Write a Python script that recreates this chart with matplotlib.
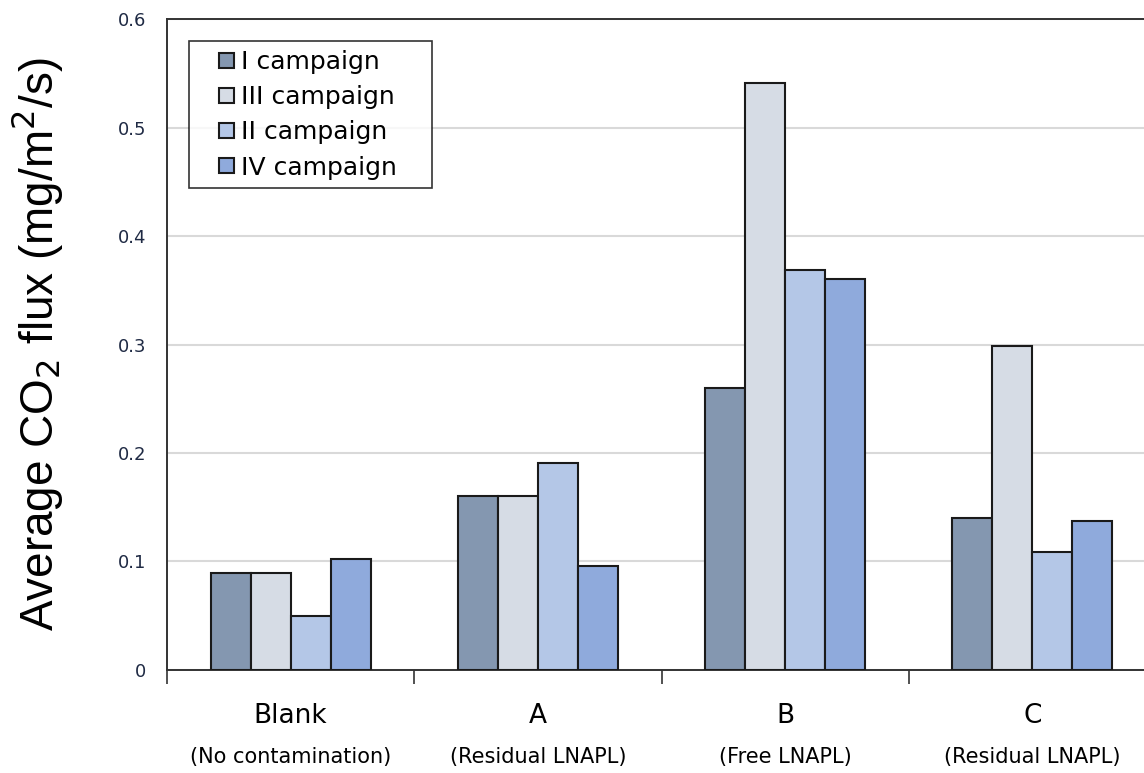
import numpy as np
import matplotlib.pyplot as plt
from matplotlib.patches import Rectangle
from matplotlib.legend_handler import HandlerPatch

plt.rcParams['font.family'] = ['DejaVu Sans']

# data
sites = ['Blank', 'A', 'B', 'C']
site_notes = ['(No contamination)', '(Residual LNAPL)', '(Free LNAPL)', '(Residual LNAPL)']
campaigns = ['I campaign', 'III campaign', 'II campaign', 'IV campaign']
camp_I = [0.089, 0.160, 0.260, 0.140]
camp_III = [0.089, 0.160, 0.541, 0.299]
camp_II = [0.050, 0.191, 0.369, 0.109]
camp_IV = [0.102, 0.096, 0.360, 0.137]
colors = ['#8497B0', '#D6DCE5', '#B4C7E7', '#8FAADC']

series = [camp_I, camp_III, camp_II, camp_IV]

fig = plt.figure(figsize=(11.44, 7.73), dpi=100)
ax = fig.add_axes([0.146, 0.1333, 0.8645, 0.842])

x = np.arange(len(sites))
w = 0.162
for i, (vals, col) in enumerate(zip(series, colors)):
    ax.bar(x + (i - 1.5) * w, vals, width=w, color=col, edgecolor='#1a1a1a',
           linewidth=1.5, zorder=3)

ax.set_xlim(-0.5, len(sites) - 0.5)
ax.set_ylim(0, 0.6)
ax.set_yticks(np.arange(0, 0.61, 0.1))
ax.set_yticklabels(['0', '0.1', '0.2', '0.3', '0.4', '0.5', '0.6'], fontsize=13,
                   color='#1f2a44')
ax.tick_params(axis='y', length=0, pad=15)
ax.grid(axis='y', color='#D9D9D9', linewidth=1.5, zorder=0)

# category boundaries as ticks, labels as text
ax.set_xticks(np.arange(-0.5, len(sites), 1.0))
ax.set_xticklabels([])
ax.tick_params(axis='x', length=10, width=1.2, direction='out', color='#333333')
for xi, s, n in zip(x, sites, site_notes):
    ax.text(xi, -0.049, s, ha='center', va='baseline', fontsize=19, clip_on=False)
    ax.text(xi, -0.086, n, ha='center', va='baseline', fontsize=15, clip_on=False)

for sp in ax.spines.values():
    sp.set_linewidth(1.4)
    sp.set_color('#333333')

ax.set_ylabel('Average CO$_2$ flux (mg/m$^2$/s)', fontsize=33,
              family='Liberation Sans')
ax.yaxis.set_label_coords(-0.103, 0.5)


def square_handle(legend, orig_handle, xdescent, ydescent, width, height, fontsize):
    s = 0.6 * fontsize
    return Rectangle((width - xdescent - s, -ydescent + (height - s) / 2), s, s)


proxies = [Rectangle((0, 0), 1, 1, facecolor=c, edgecolor='#1a1a1a', linewidth=1.5)
           for c in colors]
leg = ax.legend(proxies, campaigns, loc='upper left',
                bbox_to_anchor=(0.0222, 0.5, 0.2457, 0.466),
                mode='expand', fontsize=18, frameon=True, fancybox=False,
                edgecolor='black', handlelength=1.44, handleheight=0.7,
                handletextpad=0.28, borderpad=0.35, labelspacing=0.45,
                borderaxespad=0,
                handler_map={Rectangle: HandlerPatch(patch_func=square_handle)})
leg.get_frame().set_linewidth(1.2)

fig.savefig('out.png', dpi=100)
